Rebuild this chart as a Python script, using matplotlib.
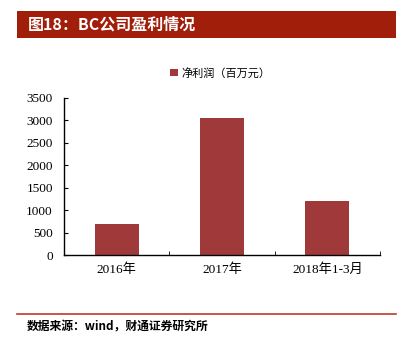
import matplotlib
matplotlib.use('Agg')
import matplotlib.pyplot as plt
from matplotlib.patches import Rectangle
from matplotlib.lines import Line2D

plt.rcParams['font.family'] = ['Liberation Serif', 'Noto Sans CJK SC']

# 净利润数据（百万元）
categories = ['2016年', '2017年', '2018年1-3月']
net_profit = [700, 3050, 1210]
y_ticks = [0, 500, 1000, 1500, 2000, 2500, 3000, 3500]

bar_color = '#A03A3A'
banner_color = '#A01E0A'

fig = plt.figure(figsize=(4.12, 3.46), dpi=100)

# 标题栏
fig.patches.append(Rectangle((17 / 412, 1 - 38 / 346), 379 / 412, 27 / 346,
                             transform=fig.transFigure, facecolor=banner_color,
                             edgecolor='none'))
fig.text(28 / 412, 1 - 25 / 346, '图18：BC公司盈利情况', color='white',
         fontsize=11.5, fontweight='bold', va='center', ha='left',
         family=['Noto Sans CJK SC'])

ax = fig.add_axes([64 / 412, 1 - 255 / 346, 316 / 412, 157 / 346])
x = range(len(categories))
ax.bar(x, net_profit, width=0.42, color=bar_color, label='净利润（百万元）')

ax.set_xlim(-0.5, len(categories) - 0.5)
ax.set_ylim(0, 3500)
ax.set_yticks(y_ticks)
ax.set_yticklabels([str(v) for v in y_ticks], fontsize=9.5)
ax.set_xticks(list(x))
ax.set_xticklabels(categories, fontsize=9.5)
ax.tick_params(axis='x', length=0, pad=6)
ax.set_xticks([0.5, 1.5, 2.5], minor=True)
ax.tick_params(axis='x', which='minor', direction='in', length=3)
ax.tick_params(axis='y', direction='in', length=3, pad=8)

for side in ['top', 'right']:
    ax.spines[side].set_visible(False)
for side in ['left', 'bottom']:
    ax.spines[side].set_linewidth(1.0)

leg = fig.legend(loc='center', bbox_to_anchor=(220 / 412, 1 - 73 / 346),
                 frameon=False, handlelength=0.7, handleheight=0.7,
                 handletextpad=0.3, prop={'family': ['Noto Sans CJK SC'], 'size': 8})

# 底部分隔线与资料来源
fig.lines.append(Line2D([17 / 412, 396 / 412], [1 - 314 / 346, 1 - 314 / 346],
                        transform=fig.transFigure, color='#C0392B', linewidth=1.2))
fig.text(27 / 412, 1 - 327 / 346, '数据来源：wind，财通证券研究所', fontsize=8.5,
         fontweight='bold', va='center', ha='left', family=['Noto Sans CJK SC'])

fig.savefig('out.png', dpi=100)
